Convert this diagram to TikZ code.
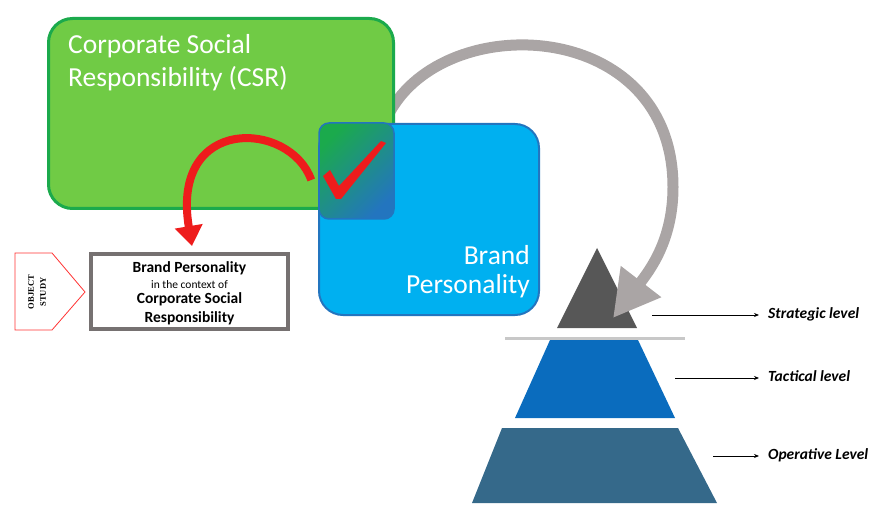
\documentclass[tikz,border=0pt]{standalone}
\usepackage{fontspec}
\setmainfont{Carlito}
\newfontfamily\stampfont{Liberation Serif}
\usetikzlibrary{arrows.meta}

\definecolor{csrgreen}{HTML}{70CB45}
\definecolor{csrline}{HTML}{1BAA4C}
\definecolor{bpblue}{HTML}{00B0F0}
\definecolor{bpline}{HTML}{2375BF}
\definecolor{boxgray}{HTML}{767171}
\definecolor{arrowgray}{HTML}{AAA5A5}
\definecolor{topgray}{HTML}{575757}
\definecolor{midblue}{HTML}{0A6CBE}
\definecolor{lowblue}{HTML}{35698A}
\definecolor{linegray}{HTML}{C8C8C8}
\definecolor{tickred}{HTML}{EE1C1C}

\pgfdeclarelayer{bottom}
\pgfdeclarelayer{back}
\pgfsetlayers{bottom,back,main}

\tikzset{
  panel/.style={draw=#1, rounded corners=24pt, inner sep=0pt},
  bigtext/.style={text=white, inner sep=0pt},
  lvlarrow/.style={-{Stealth[length=5pt,width=4pt]}, line width=0.8pt, shorten >=9pt},
  lvltext/.style={anchor=base west, inner sep=0pt, font=\fontsize{15.5}{17}\selectfont\bfseries\itshape},
}

\begin{document}
\begin{tikzpicture}[x=1pt,y=-1pt]
  \useasboundingbox (0,0) rectangle (873,505);

  % the two panels
  \node (csr) [panel=csrline, fill=csrgreen, line width=3pt,
    minimum width=345pt, minimum height=190pt] at (221,113.5) {};
  \node (csrtext) [bigtext, anchor=base west, align=left,
    font=\fontsize{27.5}{33}\selectfont] at (68,87)
    {Corporate Social\\Responsibility (CSR)};
  \node (bp) [panel=bpline, fill=bpblue, line width=2pt,
    minimum width=220pt, minimum height=191pt] at (429,219.5) {};
  \node (bptext) [bigtext, anchor=base east, align=right,
    font=\fontsize{27.5}{29}\selectfont] at (530,294)
    {Brand\\Personality};

  % red arrow towards the object of study
  \node (tick) [draw=bpline, line width=1.5pt, rounded corners=10pt,
    top color=csrline, middle color=bpblue!80!cyan, bottom color=bpline,
    shading angle=45, minimum width=75pt, minimum height=96pt] at (356.5,171) {};
  \fill[tickred] (323,176) -- (330,170) -- (339,186) -- (381,141)
    -- (386,143) -- (341,199) -- (336,199) -- cycle;

  % object of study
  \draw[red!80, fill=white, line width=0.8pt]
    (15,253) -- (52,253) -- (85,292) -- (52,330) -- (15,330) -- cycle;
  \node (study) [rotate=90, align=center, inner sep=0pt,
    font=\stampfont\fontsize{8.5}{12}\selectfont\bfseries] at (37,292)
    {OBJECT\\STUDY};
  \node (objbox) [draw=boxgray, line width=4pt, fill=white,
    minimum width=197pt, minimum height=75pt] at (189.5,291.5) {};
  \node (objtext) [align=center, inner sep=0pt, anchor=north,
    font=\fontsize{15.5}{15}\selectfont\bfseries] at (189.5,261)
    {Brand Personality\\[1pt]
     {\mdseries\fontsize{11.5}{12}\selectfont in the context of}\\
     Corporate Social\\[4pt]
     Responsibility};

  \draw[tickred, line width=8pt, -{Triangle[width=27pt,length=20pt]}]
    ([shift={(-7,9)}]tick.west) .. controls (290,120) and (170,115)
    .. ([shift={(2.5,-6)}]objbox.north);

  % pyramid of levels
  \begin{pgfonlayer}{bottom}
    \fill[topgray] (597,248) -- (637,328) -- (557,328) -- cycle;
    \draw[linegray, line width=3pt] (505,338) -- (685,338);
    \fill[midblue] (550,340) -- (638,340) -- (675,418) -- (515,418) -- cycle;
    \fill[lowblue] (502,428) -- (678,428) -- (717,503) -- (472,503) -- cycle;
  \end{pgfonlayer}
  \coordinate (hit) at (613,318);

  \begin{pgfonlayer}{back}
    \draw[arrowgray, line width=11pt, -{Triangle[width=48pt,length=46pt]}]
      ([xshift=-6pt]csr.east) .. controls (445,8) and (673,18) .. (673,187)
      .. controls (673,240) and (650,270) .. (hit);
  \end{pgfonlayer}

  % level labels
  \coordinate (s0) at (652,315);
  \coordinate (t0) at (675,378);
  \coordinate (o0) at (713,456);
  \node (strat) [lvltext] at (768,318) {Strategic level};
  \node (tact) [lvltext] at (768,381) {Tactical level};
  \node (oper) [lvltext] at (768,459) {Operative Level};
  \draw[lvlarrow] (s0) -- (s0 -| strat.west);
  \draw[lvlarrow] (t0) -- (t0 -| tact.west);
  \draw[lvlarrow] (o0) -- (o0 -| oper.west);
\end{tikzpicture}
\end{document}
